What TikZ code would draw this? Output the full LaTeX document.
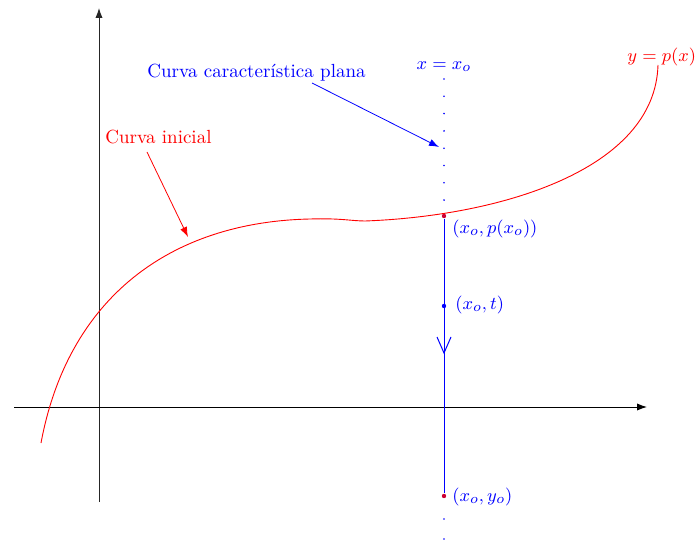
\documentclass[tikz,border=0pt]{standalone}
\usetikzlibrary{arrows.meta}
\begin{document}
\begin{tikzpicture}[x=0.5pt,y=-0.5pt,
  lbl/.style={inner sep=0pt,font=\fontsize{9.5}{11}\selectfont},
  axis/.style={line width=0.45pt,-{Latex[length=5pt,width=3.6pt]}},
  pointer/.style={line width=0.4pt,-{Latex[length=5pt,width=3.6pt]}},
  ptdot/.style={circle,inner sep=0pt,minimum size=2.2pt},
  smalldot/.style={circle,fill=blue,inner sep=0pt,minimum size=0.9pt}]
\useasboundingbox (0,0) rectangle (697,540);
% axes
\coordinate (xl) at (14,407);
\coordinate (xr) at (647,407);
\coordinate (yb) at (99,502);
\coordinate (yt) at (99,8);
\draw[axis,black!85] (yb) -- (yt);
\draw[axis] (xl) -- (xr);
% points on vertical line
\node[ptdot,fill=red!80!blue] (P) at (444,216) {};
\node[ptdot,fill=blue] (T) at (444,306) {};
\node[ptdot,fill=red!80!blue] (Y) at (444,496) {};
\coordinate (arr) at (444,353);
% vertical characteristic line
\draw[blue,line width=0.5pt] (P) -- (Y);
\draw[blue,line width=0.5pt] (437,337) -- (arr) -- (451,337);
\foreach \k in {0,...,7}{\node[smalldot] at (444,{79+17.3*\k}) {};}
\node[smalldot] at (444,519) {};
\node[smalldot] at (444,539) {};
% initial curve
\draw[red,line width=0.45pt] (41,443) .. controls (68,298) and (170,222) .. (310,219)
  .. controls (340,218) and (352,221) .. (365,221)
  .. controls (500,216) and (655,170) .. (658,65);
% labels
\node[lbl,blue,anchor=west] (lcc) at (147,73) {Curva caracter\'{\i}stica plana};
\node[lbl,blue] (lx) at (444,67) {$x=x_o$};
\node[lbl,red,anchor=west] (ly) at (627,57) {$y=p(x)$};
\node[lbl,red,anchor=west] (lci) at (105,137) {Curva inicial};
\node[lbl,blue,anchor=west] (lp) at (452,229) {$(x_o,p(x_o))$};
\node[lbl,blue,anchor=west] (lt) at (455,305) {$(x_o,t)$};
\node[lbl,blue,anchor=west] (lyo) at (452,497) {$(x_o,y_o)$};
% pointers
\coordinate (bs) at (312,83);
\coordinate (be) at (439,147);
\coordinate (rs) at (147,152);
\coordinate (re) at (188,237);
\draw[pointer,blue] (bs) -- (be);
\draw[pointer,red] (rs) -- (re);
\end{tikzpicture}
\end{document}
